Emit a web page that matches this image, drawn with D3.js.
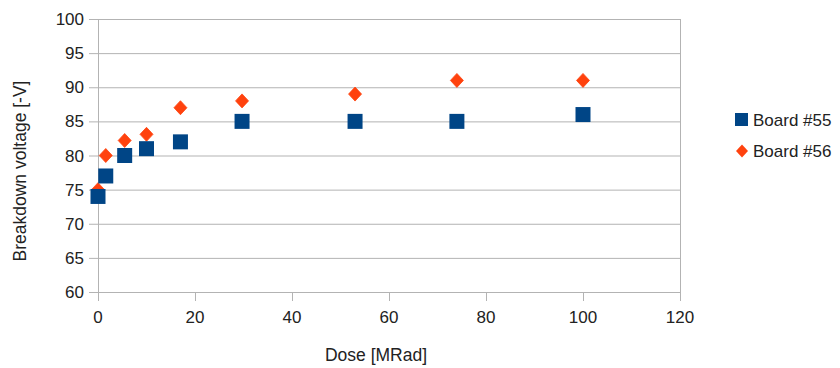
<!DOCTYPE html>
<html>
<head>
<meta charset="utf-8">
<script src="https://cdn.jsdelivr.net/npm/d3@7"></script>
<style>
  body { margin: 0; background: #fff; }
  text { font-family: "Liberation Sans", Arial, sans-serif; fill: #222; }
</style>
</head>
<body>
<svg width="840" height="368"></svg>
<script>
// dose in MRad
var dose = [0, 1.6, 5.5, 10, 17, 29.7, 53, 74, 100];
var board55 = [74, 77, 80, 81, 82, 85, 85, 85, 86];
var board56 = [75, 80, 82.2, 83.1, 87, 88, 89, 91, 91];
var xTicks = [0, 20, 40, 60, 80, 100, 120];
var yTicks = [60, 65, 70, 75, 80, 85, 90, 95, 100];
var seriesNames = ["Board #55", "Board #56"];
var colors = ["#004586", "#ff420e"];

var svg = d3.select("svg"),
  margin = {top: 19, right: 160, bottom: 76, left: 98},
  width = 840 - margin.left - margin.right,
  height = 368 - margin.top - margin.bottom,
  g = svg.append("g").attr("transform", "translate(" + margin.left + "," + margin.top + ")");

var x = d3.scaleLinear().domain([0, 120]).range([0, width]);
var y = d3.scaleLinear().domain([60, 100]).range([height, 0]);

// horizontal grid
g.append("g")
  .selectAll("line")
  .data(yTicks)
  .enter().append("line")
  .attr("x1", -9).attr("x2", width)
  .attr("y1", function (d) { return y(d) + 0.5; })
  .attr("y2", function (d) { return y(d) + 0.5; })
  .attr("stroke", "#b3b3b3");

// right border + left axis line
g.append("line").attr("x1", width + 0.5).attr("x2", width + 0.5)
  .attr("y1", 0).attr("y2", height + 9).attr("stroke", "#b3b3b3");
g.append("line").attr("x1", 0.5).attr("x2", 0.5)
  .attr("y1", 0).attr("y2", height + 9).attr("stroke", "#b3b3b3");

// x ticks
g.append("g")
  .selectAll("line")
  .data(xTicks)
  .enter().append("line")
  .attr("x1", function (d) { return Math.round(x(d)) + 0.5; })
  .attr("x2", function (d) { return Math.round(x(d)) + 0.5; })
  .attr("y1", height).attr("y2", height + 9)
  .attr("stroke", "#b3b3b3");

g.append("g")
  .selectAll("text")
  .data(xTicks)
  .enter().append("text")
  .attr("x", function (d) { return x(d); })
  .attr("y", height + 31)
  .attr("text-anchor", "middle")
  .style("font-size", "17px")
  .text(function (d) { return d; });

g.append("g")
  .selectAll("text")
  .data(yTicks)
  .enter().append("text")
  .attr("x", -14)
  .attr("y", function (d) { return y(d) + 6; })
  .attr("text-anchor", "end")
  .style("font-size", "17px")
  .text(function (d) { return d; });

// axis titles
g.append("text")
  .attr("x", x(60) - 13)
  .attr("y", height + 69)
  .attr("text-anchor", "middle")
  .style("font-size", "17.5px")
  .text("Dose [MRad]");

g.append("text")
  .attr("transform", "translate(-72,152) rotate(-90)")
  .attr("text-anchor", "middle")
  .style("font-size", "17.5px")
  .text("Breakdown voltage [-V]");

var sq = d3.symbol().type(d3.symbolSquare).size(225);
function diamond(w, h) {
  return "M0," + (-h) + "L" + w + ",0L0," + h + "L" + (-w) + ",0Z";
}

// board 56 first so squares sit on top
g.selectAll(".b56")
  .data(board56)
  .enter().append("path")
  .attr("class", "b56")
  .attr("d", diamond(6.5, 7))
  .attr("fill", colors[1])
  .attr("stroke", colors[1])
  .attr("stroke-width", 0.8)
  .attr("stroke-linejoin", "round")
  .attr("transform", function (d, i) { return "translate(" + x(dose[i]) + "," + y(d) + ")"; });

g.selectAll(".b55")
  .data(board55)
  .enter().append("path")
  .attr("class", "b55")
  .attr("d", sq)
  .attr("fill", colors[0])
  .attr("transform", function (d, i) { return "translate(" + x(dose[i]) + "," + y(d) + ")"; });

// legend
var legend = svg.append("g").attr("transform", "translate(735,0)");
legend.append("rect").attr("x", 0).attr("y", 113).attr("width", 13).attr("height", 13).attr("fill", colors[0]);
legend.append("path")
  .attr("d", diamond(6, 6.5))
  .attr("transform", "translate(7,151)")
  .attr("fill", colors[1]);
legend.selectAll(".lt")
  .data(seriesNames)
  .enter().append("text")
  .attr("class", "lt")
  .attr("x", 18)
  .attr("y", function (d, i) { return 126 + i * 31; })
  .style("font-size", "17px")
  .text(function (d) { return d; });
</script>
</body>
</html>
